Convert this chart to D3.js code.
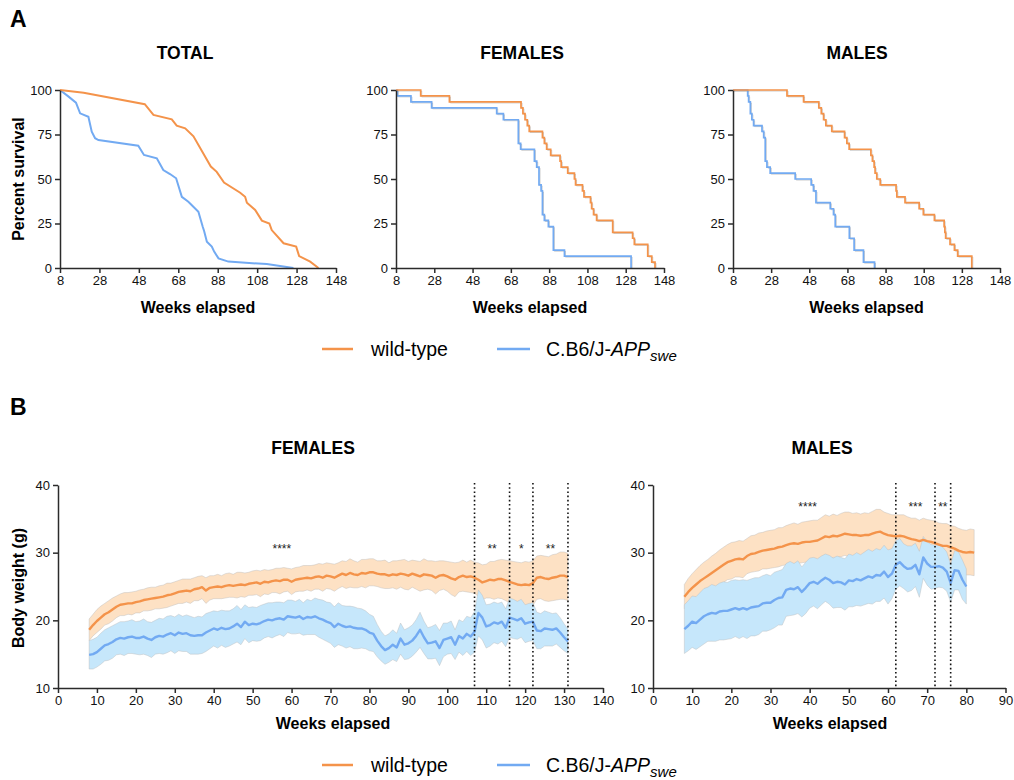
<!DOCTYPE html>
<html>
<head>
<meta charset="utf-8">
<script src="https://cdn.jsdelivr.net/npm/d3@7"></script>
<style>
  body { margin: 0; background: #fff; }
  svg { font-family: "Liberation Sans", Arial, Helvetica, sans-serif; }
  .axis path, .axis line { stroke: #2b2b2b; stroke-width: 1.5; }
  .axis text { font-size: 13px; fill: #111; }
</style>
</head>
<body>
<div id="chart"></div>
<script>
// ---- Panel A: survival (week, percent survival) ----
var totalWT = [[8,100],[20,98.5],[51,92],[55.4,86],[64.7,83.5],[67.2,80],[71.5,78.5],[75.7,74],
  [84.5,57],[87.5,54],[91.2,48],[99.4,42.3],[101.9,40],[102.8,36.7],[107,32.6],[110.4,26.6],
  [114.2,25],[115.4,21.3],[121.4,13.9],[127.8,12],[129.3,6.7],[134.9,3.6],[139.1,0]];
var totalAPP = [[8,100],[12.2,96.4],[16.1,92.9],[18.2,86.9],[22.4,85],[24.1,76.6],[25.8,72.9],
  [27.5,71.9],[47.7,68.7],[50.6,63.5],[57.1,61.6],[60.4,55],[63.8,52.8],[66.9,50.4],[69.8,40],
  [73.1,37.2],[78.2,31.6],[80.4,23.2],[81.1,20.8],[82.5,14.8],[85,12],[86.2,9.2],[88.4,5.4],
  [93.4,3.6],[112.9,2.2],[126.4,0]];

var femWT = [[8,100],[20.9,96.7],[35.9,93.3],[73.3,90],[74.3,86.7],[75.4,83.3],[76.6,80],
  [77.6,76.7],[84.5,73.3],[85.5,70],[86.7,66.7],[88.8,63.3],[93.7,60],[94.3,56.7],[97.7,53.3],
  [101.2,50],[101.8,46.7],[105.4,43.3],[106.2,40],[109.6,36.7],[110.2,33.3],[111.2,30],
  [112.8,26.7],[121.2,20],[131.6,16.7],[132.5,13.3],[139.5,6.7],[141.6,3.3],[143.3,0]];
var femAPP = [[8,100],[8.7,96.7],[15.8,93.3],[26.6,90],[60.6,86.7],[64.1,83.3],[71.9,70],
  [73.1,66.7],[80.3,60],[81.5,56.7],[82.7,46.7],[83.8,43.3],[84.5,30],[85.5,26.7],[87.6,23.3],
  [90.2,10],[96,6.7],[130.8,0]];

var maleWT = [[8,100],[36.3,96.7],[45,93.3],[53,90],[54.3,86.7],[55.5,83.3],[56.7,80],[59.8,76.7],
  [66.5,73.3],[67.7,70],[68.9,66.7],[80.3,63.3],[81.1,60],[82,56.7],[82.5,53.3],[83.4,50],
  [85.2,46.7],[93.5,43.3],[93.9,40],[98.2,36.7],[105.6,33.3],[107.8,30],[113.6,26.7],
  [118.7,23.3],[119.1,20],[119.5,16.7],[121.8,13.3],[124.1,10],[125.8,6.7],[133.2,0]];
var maleAPP = [[8,100],[15.7,96.7],[16.2,93.3],[17.1,86.7],[17.9,83.3],[18.8,80],[23.2,76.7],
  [24.1,73.3],[24.9,60],[25.8,56.7],[27.5,53.3],[40.6,50],[49,46.7],[50.2,43.3],[51.5,36.7],
  [59,33.3],[60.7,30],[61.6,23.3],[69,16.7],[71.5,10],[76.4,3.3],[82.2,0]];

var survTicks = [8, 28, 48, 68, 88, 108, 128, 148];
var pctTicks = [0, 25, 50, 75, 100];

// ---- Panel B: body weight, one value per week (mean and SD) ----
var fStart = 8;   // females weeks 8..131
var fWTmean = [18.6,19.3,19.9,20.4,20.9,21.2,21.6,22.0,22.3,22.4,22.5,22.5,22.7,
  22.8,23.0,23.1,23.2,23.3,23.4,23.5,23.7,23.8,24.0,
  24.2,24.3,24.4,24.3,24.6,24.7,24.9,24.4,24.8,24.9,
  25.0,24.9,25.1,25.2,25.1,25.2,25.3,25.2,25.4,25.5,
  25.6,25.4,25.7,25.6,25.8,25.9,25.8,26.0,26.0,25.7,
  26.0,26.1,26.2,26.3,26.2,26.4,26.5,26.3,26.6,26.5,
  26.3,26.6,26.9,26.7,27.0,26.8,26.7,27.0,26.9,27.1,
  27.1,26.9,26.8,26.8,26.6,26.8,26.7,26.9,26.8,26.6,
  26.9,26.7,26.5,26.8,26.7,26.6,26.3,26.6,26.7,26.5,
  26.2,26.0,26.4,26.6,26.4,26.5,26.3,26.0,25.6,25.8,
  26.0,25.9,26.1,26.1,25.9,25.7,25.5,25.3,25.2,25.3,
  25.2,25.5,26.3,26.4,26.2,26.1,26.3,26.4,26.6,26.6,
  26.4];
var fWTsd = [1.6,1.6,1.7,1.7,1.6,1.7,1.7,1.6,1.6,1.7,1.6,1.7,1.6,
  1.7,1.6,1.7,1.7,1.6,1.7,1.7,1.8,1.7,1.7,
  1.7,1.8,1.7,1.8,1.7,1.8,1.7,1.9,1.8,1.7,
  1.8,1.7,1.8,1.8,1.7,1.9,1.8,1.8,1.7,1.8,
  1.8,1.9,1.8,1.8,1.7,1.8,1.9,1.8,1.7,1.9,
  1.8,1.8,1.9,1.8,1.9,1.8,1.9,2.0,1.9,1.9,
  2.0,1.9,1.9,2.0,2.1,2.0,1.9,2.0,2.1,2.0,
  2.0,1.9,2.0,2.1,1.9,2.0,2.1,2.0,2.2,2.1,
  2.0,2.1,2.2,2.3,2.1,2.2,2.4,2.2,2.1,2.2,
  2.4,2.5,2.2,2.3,2.2,2.4,2.3,2.5,2.6,2.5,
  2.7,2.8,2.8,2.9,3.0,3.1,3.2,3.3,3.3,3.4,
  3.4,3.3,3.2,3.2,3.3,3.3,3.4,3.4,3.5,3.5,
  3.5];
var fAPPmean = [14.9,15.0,15.3,15.8,16.3,16.5,16.8,17.2,17.4,17.3,17.5,17.6,17.4,
  17.4,17.6,17.3,17.1,17.5,17.7,17.6,17.9,18.1,17.8,
  18.2,18.0,18.1,17.8,17.7,17.8,17.8,18.2,18.5,18.8,
  18.6,18.9,18.7,18.8,19.1,19.5,19.0,19.8,19.3,19.5,
  19.4,19.6,19.9,20.1,20.0,20.2,20.3,20.1,20.6,20.5,
  20.4,20.6,20.2,20.5,20.4,20.6,20.3,20.1,19.8,19.6,
  19.0,19.5,19.2,19.0,19.1,18.9,18.8,18.8,18.6,18.2,
  18.0,17.0,16.2,15.6,15.9,16.4,16.0,17.3,16.4,16.6,
  17.0,17.7,18.6,17.5,16.6,16.7,16.9,15.9,17.1,17.3,
  17.5,16.4,17.7,17.3,18.0,17.6,18.3,21.1,20.4,19.1,
  19.3,19.7,19.5,19.8,18.9,20.4,20.2,20.0,20.3,19.5,
  19.7,19.8,18.5,18.4,18.8,18.7,18.6,18.8,18.2,17.5,
  16.9];
var fAPPsd = [2.1,2.2,2.2,2.3,2.3,2.4,2.4,2.3,2.4,2.5,2.4,2.5,2.4,
  2.5,2.6,2.5,2.6,2.5,2.6,2.6,2.7,2.6,2.7,
  2.7,2.6,2.7,2.8,2.7,2.8,2.7,2.8,2.7,2.6,
  2.7,2.6,2.7,2.6,2.6,2.7,2.6,2.5,2.6,2.5,
  2.5,2.6,2.5,2.5,2.6,2.5,2.4,2.5,2.4,2.5,
  2.4,2.5,2.4,2.6,2.5,2.7,2.8,2.9,2.9,3.0,
  3.0,3.1,3.0,3.1,3.0,3.1,3.0,2.9,2.8,2.7,
  2.6,2.4,2.2,2.1,2.1,2.2,2.1,2.3,2.2,2.3,
  2.3,2.4,2.6,2.4,2.3,2.4,2.5,2.6,2.5,2.3,
  2.4,2.2,2.4,2.5,2.6,2.8,3.0,3.4,3.3,3.2,
  3.1,3.0,3.0,2.9,2.8,2.9,2.9,2.8,2.8,2.8,
  2.8,2.8,2.7,2.6,2.6,2.5,2.4,2.3,2.2,2.0,
  1.8];

var mStart = 8;   // males: wild-type weeks 8..82, APPswe weeks 8..80
var mWTmean = [23.5,24.2,24.8,25.3,25.8,26.2,26.6,27.0,27.4,27.8,28.2,28.6,28.8,
  29.0,29.1,29.0,29.5,29.8,29.9,30.1,30.3,30.4,30.5,
  30.6,30.8,30.9,31.1,31.3,31.4,31.3,31.5,31.6,31.6,
  31.7,31.8,32.1,32.4,32.3,32.5,32.4,32.6,32.8,32.7,
  32.6,32.6,32.5,32.6,32.6,32.8,33.0,33.1,32.8,32.6,
  32.5,32.4,32.5,32.4,32.2,32.0,31.9,31.7,31.9,31.7,
  31.6,31.4,31.2,31.0,31.0,30.8,30.6,30.3,30.1,30.0,
  30.1,30.0];
var mWTsd = [1.8,2.0,2.1,2.2,2.3,2.4,2.4,2.5,2.5,2.6,2.6,2.6,2.7,
  2.6,2.7,2.7,2.6,2.7,2.7,2.8,2.7,2.8,2.8,
  2.8,2.9,2.8,2.9,2.9,3.0,2.9,3.0,3.0,3.1,
  3.1,3.0,3.1,3.2,3.1,3.2,3.1,3.2,3.2,3.3,
  3.2,3.3,3.2,3.3,3.2,3.3,3.4,3.3,3.2,3.2,
  3.1,3.2,3.1,3.2,3.1,3.1,3.2,3.1,3.2,3.2,
  3.2,3.3,3.2,3.3,3.3,3.2,3.3,3.3,3.3,3.3,
  3.4,3.4];
var mAPPmean = [18.7,19.2,19.8,19.6,20.1,20.6,20.9,21.1,21.0,21.3,21.4,21.4,21.6,
  21.8,21.6,21.8,21.6,21.9,22.0,22.1,22.5,22.6,22.6,
  23.0,23.3,23.4,24.5,24.7,24.6,24.9,24.2,24.8,25.5,
  25.7,25.4,25.9,26.3,26.0,25.5,25.7,25.6,25.3,25.9,
  25.8,26.1,25.9,26.2,26.5,26.3,26.7,26.6,27.2,26.4,
  26.9,28.2,28.6,28.0,27.6,27.7,28.2,26.8,29.3,28.4,
  27.9,27.9,28.0,27.8,27.2,25.5,27.4,27.3,26.0,25.0];
var mAPPsd = [3.6,3.7,3.8,3.9,4.0,4.1,4.0,4.2,4.1,4.2,4.3,4.2,4.3,
  4.2,4.3,4.2,4.3,4.2,4.3,4.2,4.1,4.2,4.0,
  4.1,4.0,4.1,3.9,4.0,3.8,3.9,3.7,3.8,3.7,
  3.6,3.7,3.6,3.5,3.6,3.7,3.8,3.7,3.8,3.9,
  3.8,3.9,3.8,3.9,4.0,3.9,3.9,3.8,3.9,4.0,
  3.7,3.6,3.5,3.3,3.4,3.3,3.2,3.4,3.1,3.2,
  3.3,3.2,3.1,3.0,2.9,2.8,2.9,2.8,2.9,2.6];

var fCutWeeks = [107, 116, 122, 131];
var fStarWeeks = [57.5, 111.5, 119, 126.5];
var fStarLabels = ["****", "**", "*", "**"];
var mCutWeeks = [62, 72, 76];
var mStarWeeks = [39.5, 67, 74];
var mStarLabels = ["****", "***", "**"];

var orange = "#f4934a", blue = "#72aaf2";
var orangeFill = "#fde1c4", blueFill = "#c6e7fb";

var svg = d3.select("#chart").append("svg")
  .attr("width", 1014)
  .attr("height", 780);

// panel letters
svg.append("text").attr("x", 10).attr("y", 27).attr("font-size", 23).attr("font-weight", "bold").text("A");
svg.append("text").attr("x", 10).attr("y", 415).attr("font-size", 23).attr("font-weight", "bold").text("B");

function title(txt, x, y) {
  svg.append("text").attr("x", x).attr("y", y).attr("text-anchor", "middle")
    .attr("font-size", 17.5).attr("font-weight", "bold").text(txt);
}

function xTitle(x, y) {
  svg.append("text").attr("x", x).attr("y", y).attr("text-anchor", "middle")
    .attr("font-size", 16).attr("font-weight", "bold").text("Weeks elapsed");
}

// survival panel
function survPanel(wt, app, x0, x1, name, titleX, stepped) {
  var x = d3.scaleLinear().domain([8, 148]).range([x0, x1]);
  var y = d3.scaleLinear().domain([0, 100]).range([268, 90]);
  var g = svg.append("g");

  var line = d3.line()
    .x(d => x(d[0]))
    .y(d => y(d[1]))
    .curve(stepped ? d3.curveStepAfter : d3.curveLinear);

  [[app, blue], [wt, orange]].forEach(function(s) {
    if (stepped) {
      g.append("path").datum(s[0]).attr("d", line)
        .attr("fill", "none").attr("stroke", "#999").attr("stroke-width", 1)
        .attr("opacity", 0.5).attr("transform", "translate(1,1)");
    }
    g.append("path").datum(s[0]).attr("d", line)
      .attr("fill", "none").attr("stroke", s[1])
      .attr("stroke-width", stepped ? 1.7 : 2);
  });

  g.append("g").attr("class", "axis")
    .attr("transform", "translate(0,268)")
    .call(d3.axisBottom(x).tickValues(survTicks).tickSize(5).tickSizeOuter(0));
  g.append("g").attr("class", "axis")
    .attr("transform", `translate(${x0},0)`)
    .call(d3.axisLeft(y).tickValues(pctTicks).tickSize(5).tickSizeOuter(0));

  title(name, titleX, 59);
  xTitle((x0 + x1) / 2, 313);
}

survPanel(totalWT, totalAPP, 60, 336, "TOTAL", 185, false);
survPanel(femWT, femAPP, 396, 664, "FEMALES", 522, true);
survPanel(maleWT, maleAPP, 733, 1000, "MALES", 857, true);

svg.append("text")
  .attr("transform", "translate(24,179) rotate(-90)")
  .attr("text-anchor", "middle").attr("font-size", 16).attr("font-weight", "bold")
  .text("Percent survival");

// weight panel
function weightPanel(series, x0, x1, maxWeek, cuts, starWeeks, starLabels, starVal, name, titleX) {
  var x = d3.scaleLinear().domain([0, maxWeek]).range([x0, x1]);
  var y = d3.scaleLinear().domain([10, 40]).range([688, 485]);
  var g = svg.append("g");

  series.forEach(function(s) {
    var pts = s.mean.map((m, i) => ({ w: s.start + i, m: m, sd: s.sd[i] }));
    var area = d3.area()
      .x(d => x(d.w))
      .y0(d => y(d.m - d.sd))
      .y1(d => y(d.m + d.sd));
    g.append("path").datum(pts).attr("d", area)
      .attr("fill", s.fill).attr("stroke", "#b9b9b9").attr("stroke-width", 0.6)
      .attr("stroke-opacity", 0.7);
  });
  series.forEach(function(s) {
    var pts = s.mean.map((m, i) => ({ w: s.start + i, m: m }));
    g.append("path").datum(pts)
      .attr("d", d3.line().x(d => x(d.w)).y(d => y(d.m)))
      .attr("fill", "none").attr("stroke", s.color).attr("stroke-width", 2.4)
      .attr("stroke-linejoin", "round");
  });

  g.selectAll(".cut").data(cuts).enter().append("line")
    .attr("x1", d => x(d)).attr("x2", d => x(d))
    .attr("y1", 483).attr("y2", 688)
    .attr("stroke", "#111").attr("stroke-width", 1.6)
    .attr("stroke-dasharray", "1.6,2.6");

  g.selectAll(".star").data(starWeeks).enter().append("text")
    .attr("x", d => x(d)).attr("y", y(starVal) + 6)
    .attr("text-anchor", "middle").attr("font-size", 12).attr("fill", "#222")
    .text((d, i) => starLabels[i]);

  g.append("g").attr("class", "axis")
    .attr("transform", "translate(0,688)")
    .call(d3.axisBottom(x).ticks(maxWeek / 10).tickSize(5).tickSizeOuter(0));
  g.append("g").attr("class", "axis")
    .attr("transform", `translate(${x0},0)`)
    .call(d3.axisLeft(y).tickValues([10, 20, 30, 40]).tickSize(5).tickSizeOuter(0));

  title(name, titleX, 454);
}

weightPanel([
  { start: fStart, mean: fWTmean, sd: fWTsd, color: orange, fill: orangeFill },
  { start: fStart, mean: fAPPmean, sd: fAPPsd, color: blue, fill: blueFill }
], 58, 603, 140, fCutWeeks, fStarWeeks, fStarLabels, 30.9, "FEMALES", 313);
xTitle(333, 729);

weightPanel([
  { start: mStart, mean: mWTmean, sd: mWTsd, color: orange, fill: orangeFill },
  { start: mStart, mean: mAPPmean, sd: mAPPsd, color: blue, fill: blueFill }
], 653, 1005.5, 90, mCutWeeks, mStarWeeks, mStarLabels, 37.0, "MALES", 822);
xTitle(830, 729);

svg.append("text")
  .attr("transform", "translate(24,588) rotate(-90)")
  .attr("text-anchor", "middle").attr("font-size", 16).attr("font-weight", "bold")
  .text("Body weight (g)");

// legends
function legend(y) {
  var g = svg.append("g");
  g.append("line").attr("x1", 322).attr("x2", 353).attr("y1", y).attr("y2", y)
    .attr("stroke", orange).attr("stroke-width", 2.5);
  g.append("text").attr("x", 371).attr("y", y + 7).attr("font-size", 19.5).text("wild-type");
  g.append("line").attr("x1", 497).attr("x2", 530).attr("y1", y).attr("y2", y)
    .attr("stroke", blue).attr("stroke-width", 2.5);
  var t = g.append("text").attr("x", 546).attr("y", y + 7).attr("font-size", 19.5);
  t.append("tspan").text("C.B6/J-");
  t.append("tspan").attr("font-style", "italic").text("APP");
  t.append("tspan").attr("font-style", "italic").attr("font-size", 15).attr("dy", 5).text("swe");
}
legend(349);
legend(765);
</script>
</body>
</html>
